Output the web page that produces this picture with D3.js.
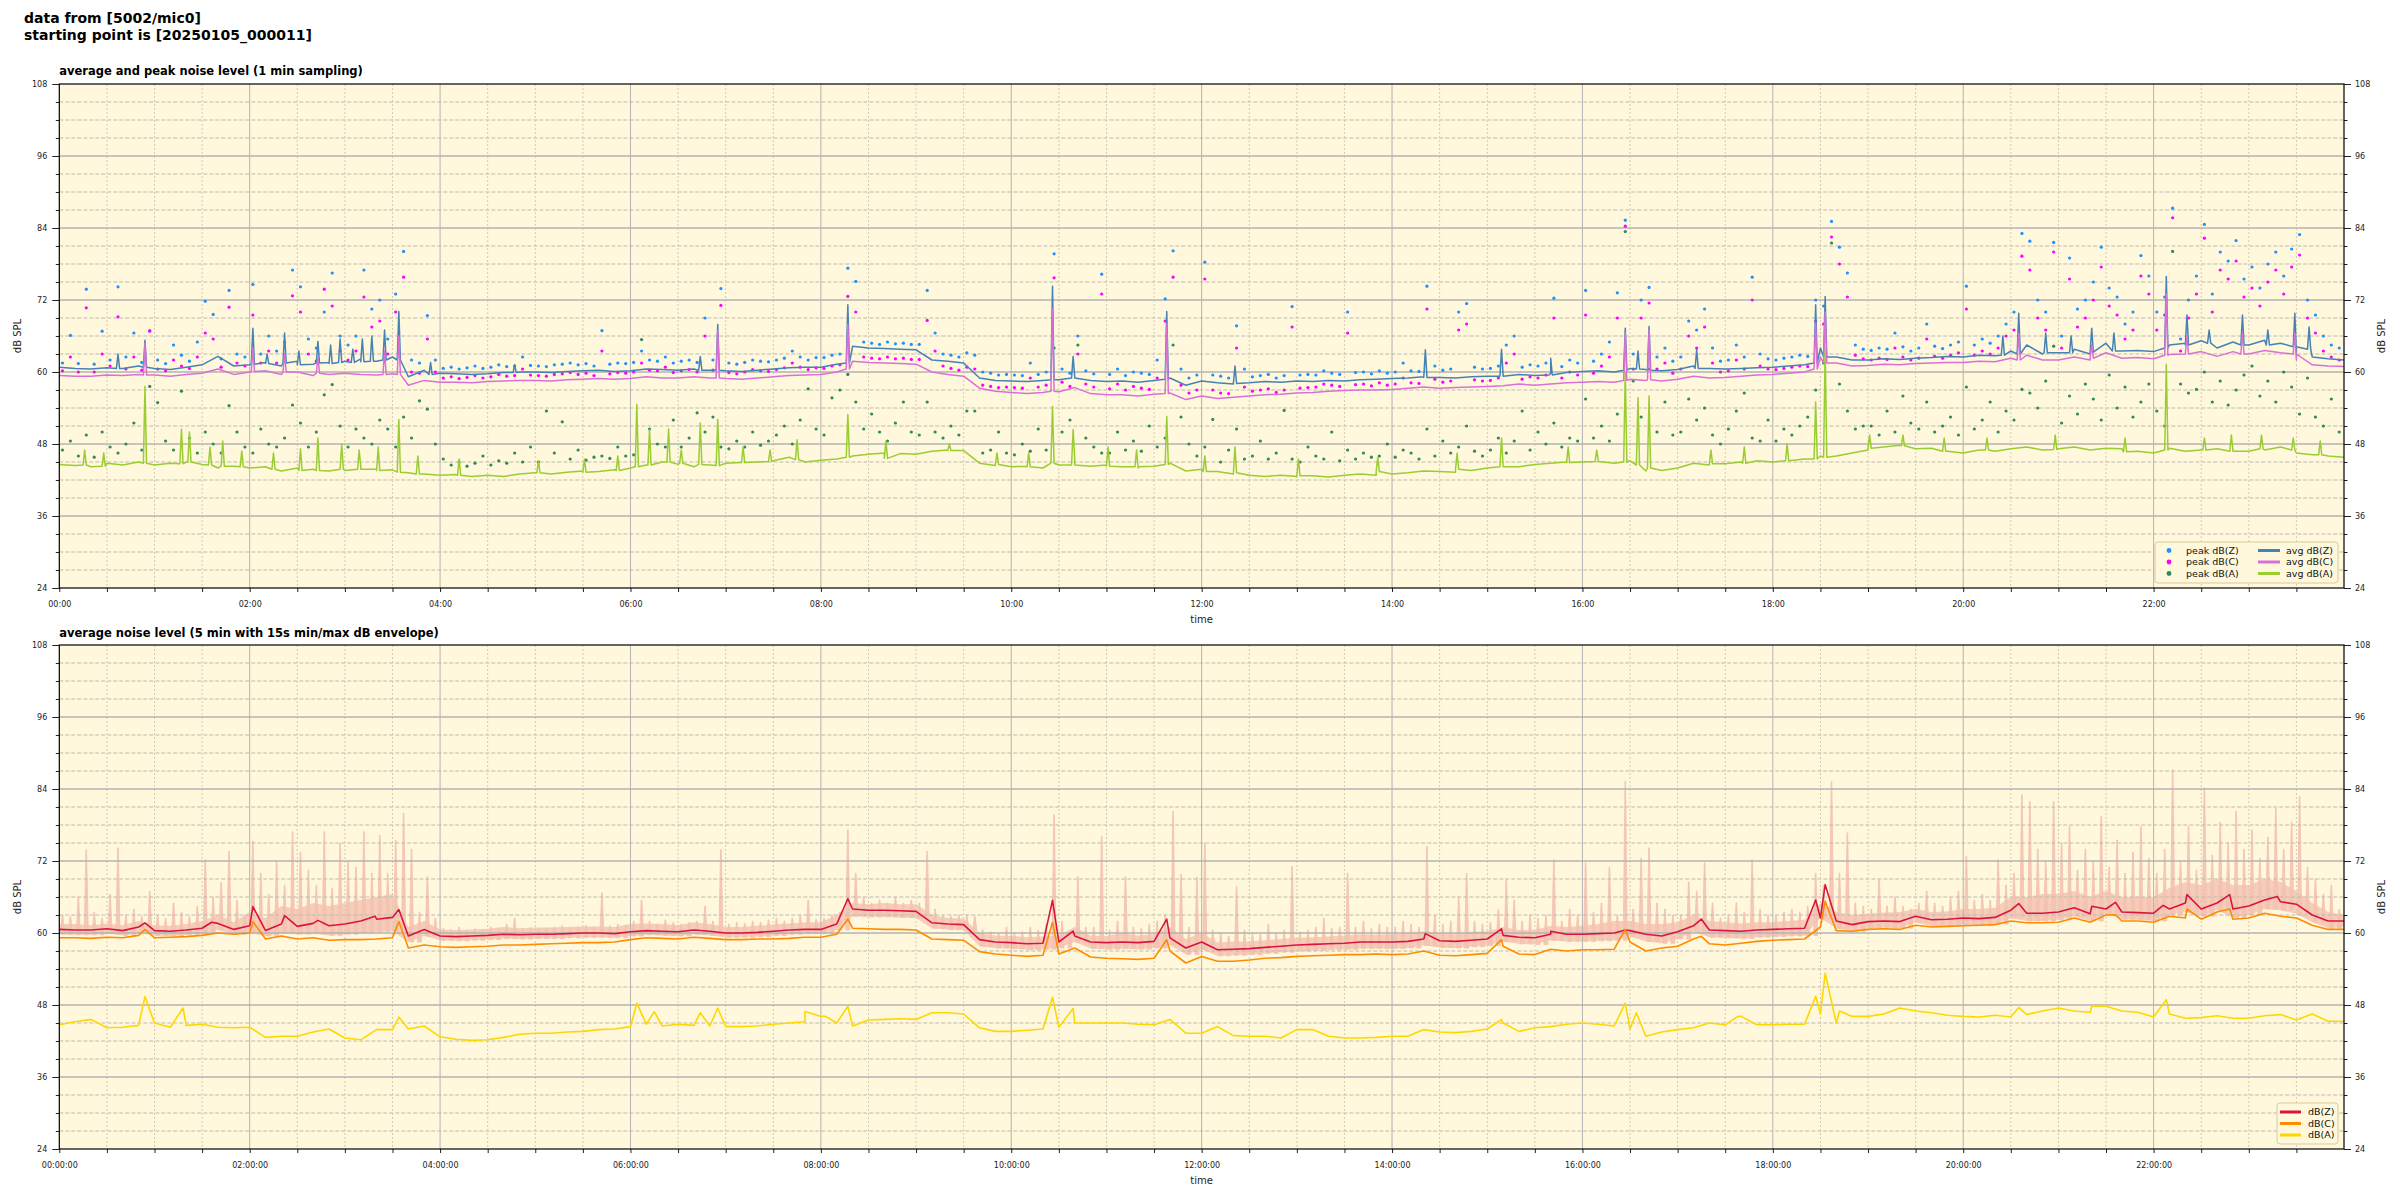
<!DOCTYPE html>
<html><head><meta charset="utf-8">
<script src="https://cdn.jsdelivr.net/npm/d3@7"></script>
<style>body{margin:0;background:#fff;} svg{font-family:"DejaVu Sans",sans-serif;}</style>
</head><body>
<svg id="c" width="2400" height="1200"></svg>
<script>
// ---------------- DATA ----------------
const yTickValues = [24,36,48,60,72,84,96,108];
const xTickMinutes = [0,120,240,360,480,600,720,840,960,1080,1200,1320];
const xTickLabelsTop = ["00:00","02:00","04:00","06:00","08:00","10:00","12:00","14:00","16:00","18:00","20:00","22:00"];
const xTickLabelsBottom = ["00:00:00","02:00:00","04:00:00","06:00:00","08:00:00","10:00:00","12:00:00","14:00:00","16:00:00","18:00:00","20:00:00","22:00:00"];
const legendTopPeak = ["peak dB(Z)","peak dB(C)","peak dB(A)"];
const legendTopAvg = ["avg dB(Z)","avg dB(C)","avg dB(A)"];
const legendBottom = ["dB(Z)","dB(C)","dB(A)"];

// top panel: 1-min avg (read every 10 min) + short events [minute, peak dB, surrounding dB]
const avgZ = [60.8,60.6,60.5,60.7,60.6,61.0, 60.6,60.4,60.8,61.2,62.6,61.0, 61.2,61.6,61.0,61.8,61.3,61.6, 61.8,62.2,61.8,62.5,59.2,60.3,
 59.8,59.7,59.6,59.7,59.9,60.0, 60.0,59.9,60.1,60.2,60.3,60.1, 60.2,60.5,60.4,60.3,60.5,60.3, 60.2,60.1,60.3,60.5,60.7,60.8,
 60.8,61.3,64.3,64.0,63.9,63.8, 63.7,62.0,61.8,61.5,59.0,58.6, 58.5,58.4,58.6,58.7,59.2,58.6, 58.4,58.5,58.3,58.6,59.0,57.8,
 58.5,58.2,58.0,58.2,58.4,58.3, 58.5,58.4,58.6,58.5,58.7,58.8, 58.9,59.0,59.2,59.1,59.0,59.2, 59.3,59.5,59.6,59.4,59.8,59.9,
 60.1,60.2,60.0,60.6,60.4,60.2, 60.4,61.0,60.6,60.5,60.6,60.7, 60.8,61.0,61.2,64.0,62.5,62.0, 62.0,62.2,62.1,62.3,62.4,62.6,
 62.5,62.8,62.7,63.5,64.5,63.0, 63.2,63.8,63.0,64.8,63.5,63.6, 63.4,64.5,64.8,65.2,64.0,65.0, 64.5,65.3,64.8,63.2,62.5,62.2, 62.0];
const avgZEvents = [[37,63.0,60.6],[54,65.3,60.8],[122,67.3,61.3],[131,63.0,61.4],[142,66.5,61.5],[151,63.5,61.2],[163,65.1,61.5],[171,64.5,61.4],[177,65.5,61.6],[185,63.8,61.6],[191,65.5,61.7],[197,66.0,61.8],[205,67.0,62.0],[214,70.1,62.0],[234,61.6,59.6],[287,61.2,59.9],[404,62.6,60.3],[415,67.9,60.3],[497,71.2,61.5],[626,74.3,58.7],[639,62.6,59.0],[698,70.1,58.8],[741,61.0,58.1],[861,63.7,59.1],[909,63.8,59.3],[940,62.3,59.5],[987,67.3,60.3],[995,63.5,60.5],[1002,67.6,60.3],[1032,63.7,60.6],[1107,71.2,61.5],[1113,72.6,62.5],[1225,66.0,62.8],[1235,69.8,63.0],[1252,66.5,63.2],[1268,66.0,63.2],[1281,67.3,63.3],[1295,66.5,63.5],[1328,75.9,64.0],[1341,69.5,64.5],[1355,67.0,64.8],[1376,69.5,64.5],[1392,67.0,64.5],[1409,69.8,64.2],[1418,67.5,63.8]];
const avgC = [59.4,59.3,59.3,59.5,59.4,59.6, 59.5,59.3,59.6,59.8,60.5,59.6, 60.0,60.2,59.6,60.0,59.4,59.6, 59.8,59.6,59.5,59.7,57.8,58.6,
 58.3,58.3,58.2,58.4,58.5,58.6, 58.6,58.5,58.7,58.8,58.9,58.8, 58.9,59.2,59.0,59.0,59.2,59.0, 58.9,58.8,59.0,59.2,59.4,59.5,
 59.6,60.0,61.8,61.6,61.5,61.4, 61.3,60.0,59.6,59.3,57.3,56.8, 56.6,56.4,56.6,56.7,57.4,56.4, 56.2,56.2,56.0,56.3,56.5,55.4,
 56.0,55.6,55.8,56.0,56.2,56.3, 56.5,56.6,56.8,56.9,57.0,57.0, 57.1,57.3,57.5,57.3,57.4,57.5, 57.6,57.7,58.0,57.8,58.0,58.2,
 58.3,58.4,58.3,58.8,58.6,58.5, 58.8,59.3,59.0,59.1,59.3,59.5, 59.6,59.8,60.0,62.5,61.5,61.0, 61.1,61.3,61.2,61.4,61.5,61.6,
 61.6,61.8,61.7,62.3,62.8,62.0, 62.0,62.5,62.0,63.2,62.3,62.4, 62.2,62.9,63.0,63.4,62.6,63.4, 63.0,63.6,63.2,62.0,61.2,61.0, 60.9];
const avgCEvents = [[54,64.8,59.5],[122,64.0,60.1],[142,63.0,60.0],[163,62.5,59.8],[205,63.5,59.6],[214,66.0,59.6],[415,67.0,59.0],[497,68.0,60.5],[626,70.5,56.8],[698,68.0,56.4],[987,66.5,58.6],[1002,67.0,58.7],[1107,68.0,60.5],[1113,70.0,61.5],[1235,66.5,62.0],[1281,64.5,62.3],[1328,73.0,62.8],[1341,66.0,63.0],[1376,66.5,63.0],[1409,66.5,63.0]];
const avgA = [44.6,44.4,44.2,44.8,44.5,45.0, 44.5,44.8,45.0,44.6,44.0,44.3, 44.0,44.2,43.5,44.0,43.8,43.5, 43.6,44.2,43.8,43.7,43.2,43.0,
 42.8,42.9,42.6,42.8,42.6,43.0, 43.2,43.0,43.3,43.5,43.4,43.7, 44.0,44.5,45.0,44.6,44.2,44.5, 44.8,44.9,45.0,45.2,45.8,45.0,
 45.3,45.5,46.0,46.3,46.5,46.4, 46.3,46.8,47.0,46.9,44.8,44.4, 44.2,44.3,44.0,44.5,45.5,44.3, 44.5,44.2,44.0,44.3,44.8,43.5,
 43.8,43.4,43.0,42.8,42.6,42.8, 42.6,42.7,42.5,42.8,43.0,42.8, 43.0,43.2,43.5,43.4,43.3,43.6, 44.0,44.3,44.2,44.6,44.8,45.0,
 45.0,45.2,44.8,45.2,43.5,43.6, 44.0,44.8,44.5,44.7,45.0,45.2, 45.0,45.2,45.5,46.0,46.0,46.5, 47.0,47.5,47.8,47.2,47.3,46.8,
 46.5,47.0,46.8,47.2,47.5,47.0, 47.2,47.5,47.0,47.3,47.2,46.8, 46.5,47.3,46.8,47.0,47.2,46.9, 46.8,47.0,47.5,46.5,46.2,46.0, 45.8];
const avgAEvents = [[16,47.0,44.5],[28,46.5,44.3],[54,57.6,44.8],[77,50.5,44.7],[82,50.0,45.0],[95,47.5,44.5],[103,48.5,44.3],[115,46.8,44.2],[135,46.5,43.8],[152,47.2,43.6],[163,49.0,43.6],[178,48.0,43.8],[189,47.0,43.8],[201,47.5,43.6],[214,52.1,43.3],[226,46.0,43.0],[252,45.5,42.8],[302,45.2,43.2],[331,45.5,43.3],[352,46.0,43.6],[364,54.6,44.2],[372,50.4,44.5],[384,50.5,45.0],[392,47.0,44.8],[404,51.5,44.6],[415,52.1,44.4],[431,47.5,44.9],[448,47.0,45.1],[465,48.7,45.4],[497,52.9,45.8],[521,48.5,45.6],[561,48.0,46.9],[591,46.5,44.6],[611,46.5,44.2],[626,54.3,44.8],[639,50.4,44.5],[661,47.5,44.3],[679,47.0,44.2],[698,52.6,44.6],[722,46.0,43.4],[741,47.5,43.2],[781,45.5,42.7],[831,45.8,43.4],[881,46.5,43.8],[909,49.0,44.2],[951,47.5,44.9],[969,47.0,45.1],[987,60.0,45.0],[995,55.7,44.5],[1002,56.0,44.0],[1041,47.0,44.7],[1062,47.5,44.8],[1089,48.0,45.2],[1107,55.0,45.5],[1113,63.8,45.8],[1141,49.5,47.3],[1162,49.5,47.7],[1188,49.0,46.8],[1215,49.0,47.0],[1258,49.5,47.1],[1302,49.0,46.7],[1328,61.3,47.0],[1352,49.0,47.0],[1369,49.5,46.8],[1388,49.5,47.2],[1408,49.0,47.0],[1425,48.5,46.2]];

// top panel: peaks (one every 5 min)
const peakZ = [61.5,66.1,61.4,73.8,61.3,66.8,62.0,74.2,62.5,66.5,61.6,66.9, 62.0,61.4,64.5,62.8,61.8,65.0,71.8,69.6,62.2,73.6,63.0,62.5,
 74.6,63.0,66.0,63.5,65.0,77.0,74.2,65.5,64.0,70.0,76.5,66.0, 64.5,66.0,77.0,70.5,72.0,65.5,73.0,80.1,62.0,61.5,69.4,62.0,
 60.6,60.8,60.5,60.7,61.0,60.6,60.8,61.2,60.9,61.0,62.5,61.1, 61.0,60.9,61.2,61.3,61.5,61.2,61.4,61.0,66.9,61.3,61.5,61.4,
 61.6,63.5,62.0,61.8,62.5,61.5,61.8,62.0,61.6,69.0,62.0,73.9, 61.5,61.3,61.6,62.0,61.8,61.7,62.0,62.3,63.5,62.5,62.0,62.4,
 62.4,62.8,63.0,77.3,75.1,65.0,64.8,64.6,65.0,64.7,64.8,64.6, 64.6,73.6,66.5,63.0,62.8,62.5,63.2,62.8,60.0,59.8,59.5,59.6,
 59.5,59.4,61.5,59.6,60.0,79.7,60.5,59.8,66.0,60.2,59.7,76.3, 59.6,60.5,59.4,60.0,59.8,59.6,62.0,72.2,80.2,60.5,59.0,59.5,
 78.3,59.5,59.3,59.0,67.7,60.5,59.2,59.4,59.6,59.0,59.4,70.9, 59.5,59.6,59.5,60.2,59.8,59.6,70.0,59.9,60.0,59.7,60.2,59.8,
 60.0,61.5,60.2,60.1,74.3,61.0,60.3,60.5,70.0,71.4,60.8,60.5, 60.6,61.0,64.5,66.0,60.8,61.2,61.0,61.5,72.3,60.9,62.0,61.5,
 73.6,61.8,63.0,65.0,73.2,85.3,63.0,72.0,74.1,62.5,64.0,61.8, 62.5,68.5,67.0,70.5,64.0,61.8,62.0,64.5,62.5,75.8,63.0,62.2,
 62.0,62.3,62.5,62.8,62.6,72.0,71.0,85.1,80.8,76.5,64.5,63.8, 63.6,64.0,63.8,66.5,64.2,63.5,64.0,68.0,64.3,63.9,64.5,65.0,
 74.3,64.5,65.5,64.8,66.0,68.0,70.0,83.1,81.8,72.0,70.0,81.6, 66.0,79.0,70.5,72.0,75.0,80.8,74.0,72.5,68.0,70.0,79.4,76.0,
 70.0,72.5,87.3,65.5,72.0,76.0,84.6,73.0,80.0,78.5,81.9,75.5, 77.5,74.0,78.0,80.0,76.0,80.5,82.9,72.0,69.5,66.0,64.5,64.0];
const peakC = [60.2,62.5,60.0,70.7,60.0,63.0,61.0,69.2,60.5,62.5,60.3,66.8, 60.5,60.2,62.0,61.0,60.6,62.5,66.5,65.5,60.8,70.8,61.5,61.0,
 69.5,61.5,63.5,61.5,62.0,72.7,70.0,63.0,61.8,73.8,71.0,63.5, 62.0,63.5,72.5,67.5,68.5,63.0,70.0,75.8,60.0,59.8,65.5,60.0,
 59.0,59.2,58.9,59.1,59.4,59.0,59.2,59.6,59.3,59.4,60.5,59.5, 59.4,59.3,59.6,59.7,59.9,59.6,59.8,59.4,63.5,59.7,59.9,59.8,
 60.0,61.5,60.3,60.2,60.8,59.9,60.2,60.4,60.0,66.0,60.3,71.1, 59.9,59.7,60.0,60.4,60.2,60.1,60.4,60.7,61.5,60.8,60.4,60.7,
 60.6,61.0,61.2,72.6,70.0,62.5,62.3,62.2,62.5,62.2,62.3,62.1, 62.1,68.6,63.5,61.0,60.6,60.3,60.8,60.5,57.8,57.6,57.4,57.5,
 57.4,57.3,59.0,57.5,57.8,75.7,58.3,57.6,63.0,58.0,57.5,73.0, 57.2,58.0,57.0,57.6,57.3,57.1,59.0,68.5,75.8,57.8,56.5,57.0,
 75.5,57.0,56.5,56.4,64.0,57.5,56.8,57.0,57.2,56.6,57.0,67.5, 57.3,57.4,57.5,58.0,57.8,57.6,66.5,57.9,58.0,57.7,58.2,57.8,
 58.0,59.0,58.2,58.1,70.5,58.8,58.3,58.5,67.0,68.0,58.7,58.5, 58.6,59.0,61.5,63.0,58.8,59.2,59.0,59.5,69.0,59.0,60.0,59.5,
 69.5,59.8,61.0,62.5,69.0,84.3,60.5,69.0,71.5,60.5,61.5,59.8, 60.5,66.0,64.0,67.5,61.5,60.0,60.2,62.0,60.5,72.0,61.0,60.5,
 60.4,60.6,60.8,61.0,60.9,68.5,68.0,82.5,78.0,72.5,62.8,62.2, 62.0,62.3,62.1,64.0,62.5,62.0,62.3,65.5,62.6,62.3,62.8,63.2,
 70.5,62.8,63.5,63.0,64.0,66.0,67.0,79.3,77.0,69.0,67.0,80.0, 64.0,75.5,67.5,69.0,72.0,77.5,71.0,69.5,65.5,67.0,76.0,73.0,
 67.0,69.5,85.7,63.5,69.0,73.0,82.3,70.0,77.0,75.5,78.5,72.5, 74.0,71.0,75.0,77.0,73.0,77.5,79.5,69.0,66.5,63.5,62.5,62.0];
const peakA = [47.0,48.5,46.0,49.5,45.8,50.0,47.5,46.5,48.0,51.5,47.0,57.6, 54.9,48.5,47.0,56.8,49.0,46.5,50.0,48.0,46.5,54.4,50.0,47.5,
 46.5,50.5,48.0,47.5,49.0,54.5,51.5,47.5,50.0,56.2,57.9,51.0, 47.5,50.5,49.0,48.0,52.0,50.5,47.5,52.5,49.0,55.2,53.8,48.0,
 45.5,44.5,45.0,44.3,44.8,46.0,44.5,45.2,44.8,46.5,45.0,47.5, 45.0,53.5,46.5,51.7,45.5,47.0,45.3,45.8,46.0,45.6,47.5,46.0,
 46.2,65.4,50.5,48.0,47.5,52.0,47.5,49.0,53.2,50.0,52.5,47.5, 47.2,48.5,47.5,50.0,47.8,48.5,49.5,51.0,48.0,52.0,57.2,50.5,
 49.5,55.7,57.0,59.6,55.0,50.5,53.0,50.0,48.5,51.5,55.0,50.0, 49.5,55.0,50.0,49.0,51.0,49.5,53.5,53.5,46.5,47.0,50.0,46.5,
 46.2,48.0,46.8,50.5,47.0,64.0,50.0,52.0,64.5,49.0,47.5,46.5, 46.5,50.0,47.0,48.5,46.8,51.0,47.5,49.0,64.5,52.5,48.0,46.0,
 47.5,52.1,45.0,47.0,50.5,45.5,46.0,48.5,45.5,46.5,53.6,45.5, 45.0,47.5,46.0,45.5,50.0,45.2,47.0,45.5,46.5,45.8,46.0,48.0,
 45.8,47.0,46.5,45.5,50.5,46.0,48.5,46.5,47.5,51.0,46.8,46.0, 47.0,49.0,46.5,48.5,53.5,47.0,50.0,48.0,51.5,47.5,49.0,48.5,
 55.5,49.0,51.0,48.5,53.0,83.4,58.5,52.5,60.5,50.0,55.0,49.5, 50.0,55.5,52.0,54.0,49.5,48.0,50.5,53.5,56.5,49.0,48.5,52.0,
 48.5,50.5,49.5,51.0,52.5,57.0,61.5,81.5,58.0,53.5,50.5,51.0, 51.0,49.5,53.5,50.0,56.0,51.5,50.5,55.0,50.0,51.0,52.5,49.5,
 57.5,50.5,52.0,55.0,50.0,53.5,52.0,57.1,56.5,54.0,58.5,64.3, 51.5,56.0,53.0,58.0,55.5,52.0,59.5,54.0,57.5,52.5,55.0,58.0,
 53.5,51.0,80.1,58.0,56.5,57.1,60.0,55.0,58.5,54.5,57.0,59.5, 61.0,56.0,58.5,55.0,60.0,57.5,53.0,59.0,52.5,51.0,55.5,50.0];

// bottom panel: 5-min averages (read every 10 min) + short events [minute, dB]
const lvlZ = [60.6,60.5,60.5,60.7,60.4,61.0, 60.4,60.3,60.5,60.8,61.6,60.6, 61.2,60.4,61.5,61.1,61.6,61.2, 61.5,62.0,62.3,62.6,59.5,60.6,
 59.5,59.4,59.5,59.6,59.8,59.7, 59.8,59.8,59.9,60.0,60.0,59.9, 60.2,60.4,60.3,60.2,60.5,60.3, 60.0,60.0,60.1,60.3,60.5,60.6,
 60.6,61.5,64.0,63.8,63.8,63.7, 63.6,61.7,61.5,61.4,58.9,58.5, 58.4,58.2,58.3,58.5,59.5,58.5, 58.4,58.5,58.4,58.6,59.2,57.5,
 58.5,57.2,57.3,57.4,57.6,57.8, 58.0,58.1,58.2,58.3,58.5,58.5, 58.5,58.6,59.0,58.7,58.6,58.8, 59.0,59.6,59.3,59.2,59.8,59.8,
 59.8,59.9,60.0,60.4,59.8,59.5, 60.2,61.2,60.5,60.4,60.3,60.5, 60.6,60.7,60.8,62.5,62.0,61.4, 61.9,62.0,61.9,62.8,62.2,62.3,
 62.5,62.4,62.6,63.8,63.3,63.3, 63.5,64.2,63.2,64.0,63.5,63.4, 63.3,64.0,65.0,64.0,65.0,64.0, 64.5,65.5,65.2,64.8,63.0,62.0, 62.0];
const lvlZEvents = [[54,61.7],[96,61.8],[122,64.4],[142,62.9],[163,62.1],[199,62.8],[214,63.9],[497,65.7],[626,65.45],[639,60.3],[698,62.3],[861,59.9],[909,60.7],[940,60.3],[987,60.5],[1035,62.3],[1107,65.5],[1113,68.06],[1235,64.9],[1281,64.45],[1296,65.1],[1326,64.6],[1341,66.4],[1368,66.4],[1398,66.1]];
const lvlC = [59.2,59.2,59.1,59.3,59.2,59.6, 59.2,59.3,59.4,59.6,60.0,59.8, 60.0,59.0,59.5,59.0,59.2,58.8, 58.9,58.9,59.0,59.2,57.5,58.0,
 57.7,57.6,57.7,57.8,58.0,58.0, 58.1,58.2,58.3,58.4,58.4,58.5, 58.9,59.2,59.1,59.0,59.3,59.1, 58.9,58.9,59.0,59.0,59.1,59.3,
 59.3,59.8,60.8,60.7,60.6,60.6, 60.5,59.0,58.9,58.8,56.9,56.5, 56.3,56.1,56.3,56.5,57.5,56.0, 55.8,55.7,55.6,55.8,57.0,55.0,
 56.1,55.3,55.3,55.5,55.8,55.9, 56.1,56.2,56.3,56.4,56.4,56.5, 56.4,56.5,57.0,56.3,56.2,56.4, 56.6,57.8,56.5,56.4,57.3,57.0,
 57.2,57.2,57.3,58.5,57.0,57.5, 57.8,59.0,58.2,58.0,58.3,58.6, 58.8,58.9,59.0,61.0,60.4,60.3, 60.6,60.7,60.6,61.3,61.0,61.1,
 61.2,61.3,61.4,62.0,61.7,61.7, 61.8,62.5,61.8,63.0,62.0,62.0, 61.8,62.8,62.5,62.3,63.5,62.3, 62.5,63.3,62.8,62.5,61.3,60.6, 60.6];
const lvlCEvents = [[54,60.6],[122,61.9],[214,61.9],[497,62.3],[626,61.8],[698,58.9],[909,58.9],[987,60.6],[1035,59.45],[1113,65.3],[1296,63.05],[1341,64.0],[1368,64.0]];
const lvlA = [44.7,45.2,45.6,44.2,44.3,44.6, 45.0,44.3,44.6,44.8,44.3,44.2, 44.3,42.6,42.8,42.8,43.5,44.0, 42.5,42.2,43.9,43.9,44.0,44.5,
 42.7,42.3,42.1,42.2,42.6,43.1, 43.3,43.3,43.5,43.6,43.9,44.0, 44.4,44.8,44.5,44.8,44.6,44.5, 44.4,44.4,44.5,44.8,45.0,45.2,
 46.1,45.0,44.5,45.5,45.6,45.7, 45.6,46.7,46.7,46.5,44.2,43.6, 43.6,43.8,44.0,44.3,45.0,45.0, 45.0,45.0,44.8,44.7,45.6,43.3,
 43.3,44.4,42.9,42.8,42.8,42.5, 43.9,43.9,42.8,42.5,42.5,42.6, 42.8,42.8,43.9,43.5,43.4,43.6, 44.0,45.0,43.6,44.2,44.4,44.8,
 45.0,44.8,44.5,44.0,42.8,43.5, 43.9,44.2,45.0,44.7,46.1,44.7, 44.7,44.8,44.8,46.5,45.0,46.1, 46.1,46.5,47.5,47.0,46.7,46.3,
 46.1,46.0,46.3,46.0,46.4,47.0, 47.5,47.0,46.8,47.8,47.0,46.8, 46.0,46.5,45.8,45.9,46.2,45.8, 45.8,46.2,46.4,45.5,46.5,45.3, 45.3];
const lvlAEvents = [[54,49.4],[78,47.5],[214,46.0],[364,48.3],[375,46.9],[404,46.7],[415,47.5],[470,46.9],[483,46.1],[497,47.8],[626,49.3],[639,47.4],[909,45.55],[987,48.3],[994,46.7],[1058,46.1],[1107,49.45],[1113,53.3],[1122,47.0],[1235,47.6],[1281,47.8],[1328,48.9]];

// bottom panel envelope: min and dense upper edge (every 10 min), 15 s max peaks (every 5 min)
const envMin = [59.8,59.7,59.7,59.9,59.6,60.0, 59.6,59.5,59.7,59.9,60.5,59.8, 60.0,59.5,60.0,59.8,59.9,59.6, 59.8,60.0,60.2,60.3,58.5,59.5,
 58.8,58.7,58.8,58.9,59.1,59.0, 59.1,59.1,59.2,59.3,59.3,59.2, 59.5,59.7,59.6,59.5,59.8,59.6, 59.3,59.3,59.4,59.6,59.8,59.9,
 59.9,60.5,62.8,62.7,62.7,62.6, 62.5,60.8,60.6,60.5,57.8,57.5, 57.4,57.2,57.3,57.5,58.5,57.4, 57.3,57.4,57.3,57.5,58.0,56.4,
 57.3,56.2,56.3,56.4,56.6,56.8, 57.0,57.1,57.2,57.3,57.4,57.4, 57.4,57.5,57.9,57.6,57.5,57.7, 57.9,58.6,58.2,58.1,58.8,58.6,
 58.6,58.7,58.8,59.4,58.6,58.3, 59.0,60.2,59.3,59.2,59.1,59.3, 59.4,59.5,59.6,62.5,60.8,60.3, 60.8,60.9,60.8,61.8,61.1,61.2,
 61.4,61.3,61.5,62.5,62.0,62.0, 62.2,62.8,62.0,63.2,62.3,62.2, 62.0,63.0,63.5,62.8,63.8,62.6, 63.0,64.0,63.8,63.2,61.8,60.8, 61.0];
const envUpper = [61.5,61.5,61.3,61.6,61.3,62.0, 61.3,61.2,61.5,62.0,63.0,61.8, 63.5,62.5,64.5,64.0,65.0,64.5, 65.0,65.5,66.0,66.5,61.0,62.0,
 60.6,60.5,60.6,60.7,61.0,60.8, 60.9,60.9,61.0,61.1,61.1,61.0, 61.5,61.6,61.5,61.3,61.8,61.5, 61.0,61.0,61.2,61.4,61.6,61.8,
 61.8,63.0,65.0,64.8,65.0,64.8, 64.8,63.0,62.5,62.4,60.0,59.6, 59.5,59.3,59.4,59.6,61.0,59.6, 59.5,60.0,59.6,59.8,61.0,59.0,
 60.0,58.4,58.6,58.6,58.8,59.0, 59.2,59.3,59.4,59.6,59.8,59.7, 59.8,60.0,60.3,60.0,59.8,60.2, 60.3,61.0,60.5,60.5,61.2,61.0,
 61.2,61.5,62.0,62.0,61.5,61.5, 61.8,63.0,62.0,61.8,61.6,61.8, 61.8,62.0,62.2,65.0,63.5,63.0, 63.2,63.4,63.5,64.0,63.5,63.6,
 64.0,64.0,64.2,66.0,66.0,66.5, 66.5,67.0,66.0,67.0,66.0,66.0, 66.0,67.5,68.5,68.0,69.0,68.0, 68.0,69.0,68.5,67.0,65.0,63.5, 63.0];
const envMax = [63.0,62.8,66.0,73.9,63.5,62.5,66.5,74.2,63.0,64.0,62.8,67.0, 63.0,62.5,65.0,63.5,62.8,64.5,72.2,66.0,68.5,73.6,65.5,63.0,
 75.3,70.0,66.5,72.0,68.0,76.9,73.5,70.5,68.0,76.9,67.5,75.0, 72.0,71.0,76.9,70.0,76.3,70.0,75.5,80.0,74.0,63.5,69.4,62.5,
 60.8,60.6,61.0,60.5,60.7,60.6,61.0,60.8,61.5,62.5,60.8,60.9, 60.8,60.9,61.0,61.2,60.9,61.0,61.3,61.0,66.7,61.2,61.5,61.3,
 62.0,65.5,62.0,61.5,62.2,61.8,61.5,61.8,62.0,64.5,62.0,73.9, 61.5,61.8,61.6,62.0,61.8,62.2,62.5,62.0,62.5,63.0,65.5,62.3,
 62.5,63.0,63.5,77.2,70.0,66.0,65.0,65.5,65.0,66.0,65.0,65.5, 65.0,73.6,64.0,63.0,62.8,63.0,63.0,62.8,60.5,60.2,60.0,61.0,
 60.0,60.2,61.0,60.5,61.5,79.7,62.0,60.4,69.4,61.0,61.0,76.1, 60.5,62.0,69.4,61.0,60.8,61.5,62.0,63.0,80.3,69.8,61.0,69.3,
 75.0,60.5,60.0,59.5,67.8,60.5,60.0,59.8,61.5,60.0,60.5,71.1, 60.2,60.5,61.0,62.5,60.8,61.0,70.0,61.0,62.0,60.8,61.5,61.0,
 61.0,62.0,61.5,61.0,74.4,63.0,61.5,62.0,66.0,70.0,62.0,61.5, 61.8,64.0,68.9,65.5,62.0,63.0,62.5,63.0,72.2,62.0,64.0,63.0,
 71.7,63.5,65.0,71.0,63.0,85.3,64.0,72.5,74.2,65.0,64.0,63.0, 63.0,68.5,67.0,71.7,65.0,62.5,63.0,65.0,63.5,72.2,64.0,63.0,
 63.0,63.5,64.0,63.5,64.5,70.0,68.0,85.3,70.0,76.7,65.0,64.5, 64.0,68.9,64.5,66.0,64.5,64.0,65.0,67.0,65.0,64.5,66.0,67.0,
 72.8,65.5,66.5,65.5,72.2,68.0,70.0,83.05,81.9,74.0,72.0,81.9, 75.0,77.8,70.5,74.0,72.0,79.4,71.0,75.5,70.0,73.5,77.8,72.5,
 70.0,74.0,87.2,72.0,77.8,70.5,84.2,73.0,78.5,75.0,80.3,74.0, 77.2,72.5,76.0,80.8,74.0,78.5,82.8,71.0,69.0,66.5,68.0,64.0];

// ---------------- CHART ----------------
const svg = d3.select("#c");
const X0 = 59.3, X1 = 2344;
const x = d3.scaleLinear().domain([0, 1440]).range([X0, X1]);
const yT = d3.scaleLinear().domain([24, 108]).range([588, 84]);
const yB = d3.scaleLinear().domain([24, 108]).range([1149, 645]);
const yMinor = d3.range(24, 109, 3).filter(v => v % 12 !== 0);
const xMinor = d3.range(30, 1440, 30).filter(v => v % 120 !== 0);

function pts(base, step, events) {
  const p = base.map((v, i) => [i * step, v]);
  (events || []).forEach(e => {
    if (e.length > 2) { p.push([e[0] - 1, e[2]], [e[0], e[1]], [e[0] + 1, e[2]]); }
    else p.push([e[0], e[1]]);
  });
  p.sort((a, b) => a[0] - b[0]);
  return p;
}

function frame(y, id) {
  const top = y(108), bot = y(24);
  const g = svg.append("g");
  svg.append("defs").append("clipPath").attr("id", id).append("rect")
    .attr("x", X0).attr("y", top).attr("width", X1 - X0).attr("height", bot - top);
  g.append("rect").attr("x", X0).attr("y", top).attr("width", X1 - X0).attr("height", bot - top).attr("fill", "#fff8dc");
  return g;
}
function grid(y) {
  const top = y(108), bot = y(24);
  const g = svg.append("g");
  g.selectAll(null).data(yMinor).join("line")
    .attr("x1", X0).attr("x2", X1).attr("y1", d => y(d)).attr("y2", d => y(d))
    .attr("stroke", "#bdbab0").attr("stroke-width", 1).attr("stroke-dasharray", "4,2");
  g.selectAll(null).data(xMinor).join("line")
    .attr("x1", d => x(d)).attr("x2", d => x(d)).attr("y1", top).attr("y2", bot)
    .attr("stroke", "#d3cbb5").attr("stroke-width", 1).attr("stroke-dasharray", "2,2");
  g.selectAll(null).data(xTickMinutes.slice(1)).join("line")
    .attr("x1", d => x(d)).attr("x2", d => x(d)).attr("y1", top).attr("y2", bot)
    .attr("stroke", "#b3b3b3").attr("stroke-width", 1);
  g.selectAll(null).data(yTickValues.slice(1, -1)).join("line")
    .attr("x1", X0).attr("x2", X1).attr("y1", d => y(d)).attr("y2", d => y(d))
    .attr("stroke", "#b3b3b3").attr("stroke-width", 1.6);
}

function axes(y, labels) {
  const top = y(108), bot = y(24);
  const st = sel => {
    sel.select(".domain").remove();
    sel.attr("font-family", "DejaVu Sans, sans-serif").attr("font-size", 8);
    sel.selectAll(".tick line").attr("stroke", "#222");
    sel.selectAll(".tick text").attr("fill", "#222");
  };
  svg.append("g").attr("transform", `translate(${X0},0)`)
    .call(d3.axisLeft(y).tickValues(yTickValues).tickSize(7).tickPadding(5).tickFormat(d3.format("d"))).call(st);
  svg.append("g").attr("transform", `translate(${X0},0)`)
    .call(d3.axisLeft(y).tickValues(yMinor).tickSize(3.5).tickFormat("")).call(st);
  svg.append("g").attr("transform", `translate(${X1},0)`)
    .call(d3.axisRight(y).tickValues(yTickValues).tickSize(7).tickPadding(4).tickFormat(d3.format("d"))).call(st);
  svg.append("g").attr("transform", `translate(${X1},0)`)
    .call(d3.axisRight(y).tickValues(yMinor).tickSize(3.5).tickFormat("")).call(st);
  svg.append("g").attr("transform", `translate(0,${bot})`)
    .call(d3.axisBottom(x).tickValues(xTickMinutes).tickSize(4).tickPadding(9).tickFormat((d, i) => labels[i])).call(st);
  svg.append("g").attr("transform", `translate(0,${bot})`)
    .call(d3.axisBottom(x).tickValues(xMinor).tickSize(4).tickFormat("")).call(st);
  svg.append("rect").attr("x", X0).attr("y", top).attr("width", X1 - X0).attr("height", bot - top)
    .attr("fill", "none").attr("stroke", "#000").attr("stroke-width", 1.2);
  svg.append("text").attr("x", (X0 + X1) / 2).attr("y", bot + 35).attr("text-anchor", "middle")
    .attr("font-size", 10).attr("fill", "#222").text("time");
  const mid = (top + bot) / 2;
  svg.append("text").attr("transform", `translate(21,${mid}) rotate(-90)`).attr("text-anchor", "middle")
    .attr("font-size", 10).attr("fill", "#222").text("dB SPL");
  svg.append("text").attr("transform", `translate(2385,${mid}) rotate(-90)`).attr("text-anchor", "middle")
    .attr("font-size", 10).attr("fill", "#222").text("dB SPL");
}

// titles
svg.append("text").attr("x", 24).attr("y", 23).attr("font-size", 14).attr("font-weight", "bold").text("data from [5002/mic0]");
svg.append("text").attr("x", 24).attr("y", 39.5).attr("font-size", 14).attr("font-weight", "bold").text("starting point is [20250105_000011]");
svg.append("text").attr("x", X0).attr("y", 75).attr("font-size", 11.5).attr("font-weight", "bold").text("average and peak noise level (1 min sampling)");
svg.append("text").attr("x", X0).attr("y", 636.5).attr("font-size", 11.5).attr("font-weight", "bold").text("average noise level (5 min with 15s min/max dB envelope)");

// ---- top panel
frame(yT, "clipT");
grid(yT);
const gT = svg.append("g").attr("clip-path", "url(#clipT)");
[[peakZ, "#1e90ff"], [peakC, "#ff00ff"], [peakA, "#2e8b57"]].forEach(([arr, col]) => {
  gT.append("g").selectAll("circle").data(arr).join("circle")
    .attr("cx", (d, i) => x(i * 5 + 2)).attr("cy", d => yT(d)).attr("r", 1.6).attr("fill", col);
});
const lineT = d3.line().x(d => x(d[0])).y(d => yT(d[1]));
[[avgZ, avgZEvents, "#4682b4"], [avgC, avgCEvents, "#da70d6"], [avgA, avgAEvents, "#9acd32"]].forEach(([b, e, col]) => {
  gT.append("path").attr("d", lineT(pts(b, 10, e))).attr("fill", "none").attr("stroke", col).attr("stroke-width", 1.5).attr("stroke-linejoin", "round");
});
axes(yT, xTickLabelsTop);

const lg1 = svg.append("g");
lg1.append("rect").attr("x", 2155).attr("y", 542).attr("width", 183).attr("height", 41).attr("rx", 3)
  .attr("fill", "#fff8dc").attr("stroke", "#dcc8a0").attr("stroke-width", 1);
const rowY1 = [550.5, 562, 573.5];
["#1e90ff", "#ff00ff", "#2e8b57"].forEach((c, i) => {
  lg1.append("circle").attr("cx", 2169).attr("cy", rowY1[i]).attr("r", 2.4).attr("fill", c);
  lg1.append("text").attr("x", 2186).attr("y", rowY1[i] + 3.4).attr("font-size", 9.5).attr("fill", "#111").text(legendTopPeak[i]);
});
["#4682b4", "#da70d6", "#9acd32"].forEach((c, i) => {
  lg1.append("line").attr("x1", 2258).attr("x2", 2280).attr("y1", rowY1[i]).attr("y2", rowY1[i]).attr("stroke", c).attr("stroke-width", 3);
  lg1.append("text").attr("x", 2286).attr("y", rowY1[i] + 3.4).attr("font-size", 9.5).attr("fill", "#111").text(legendTopAvg[i]);
});

// ---- bottom panel
frame(yB, "clipB");
const gE = svg.append("g").attr("clip-path", "url(#clipB)");
const ENV = "#f4c2b0";
const lineB = d3.line().x(d => x(d[0])).y(d => yB(d[1]));
const upPts = envUpper.map((v, i) => [i * 10, v]);
const loPts = envMin.map((v, i) => [i * 10, v]).reverse();
gE.append("path").attr("d", lineB(upPts) + "L" + lineB(loPts).slice(1) + "Z").attr("fill", ENV).attr("fill-opacity", 0.8);
gE.selectAll(null).data(envMax).join("path")
  .attr("d", (d, i) => {
    const t = i * 5 + 2, base = envMin[Math.floor(i / 2)];
    return `M${x(t - 1.3)},${yB(base)}L${x(t - 0.2)},${yB(d)}L${x(t + 0.2)},${yB(d)}L${x(t + 1.3)},${yB(base)}Z`;
  })
  .attr("fill", ENV).attr("fill-opacity", 0.9).attr("stroke", ENV).attr("stroke-width", 0.8);
grid(yB);
const gB = svg.append("g").attr("clip-path", "url(#clipB)");
[[lvlZ, lvlZEvents, "#dc143c"], [lvlC, lvlCEvents, "#ff8c00"], [lvlA, lvlAEvents, "#ffd700"]].forEach(([b, e, col]) => {
  gB.append("path").attr("d", lineB(pts(b, 10, e))).attr("fill", "none").attr("stroke", col).attr("stroke-width", 1.6).attr("stroke-linejoin", "round");
});
axes(yB, xTickLabelsBottom);

const lg2 = svg.append("g");
lg2.append("rect").attr("x", 2277).attr("y", 1103).attr("width", 61).attr("height", 41).attr("rx", 3)
  .attr("fill", "#fff8dc").attr("stroke", "#dcc8a0").attr("stroke-width", 1);
const rowY2 = [1112, 1123.5, 1135];
["#dc143c", "#ff8c00", "#ffd700"].forEach((c, i) => {
  lg2.append("line").attr("x1", 2280).attr("x2", 2301).attr("y1", rowY2[i]).attr("y2", rowY2[i]).attr("stroke", c).attr("stroke-width", 3);
  lg2.append("text").attr("x", 2308).attr("y", rowY2[i] + 3.4).attr("font-size", 9.5).attr("fill", "#111").text(legendBottom[i]);
});
</script>
</body></html>
